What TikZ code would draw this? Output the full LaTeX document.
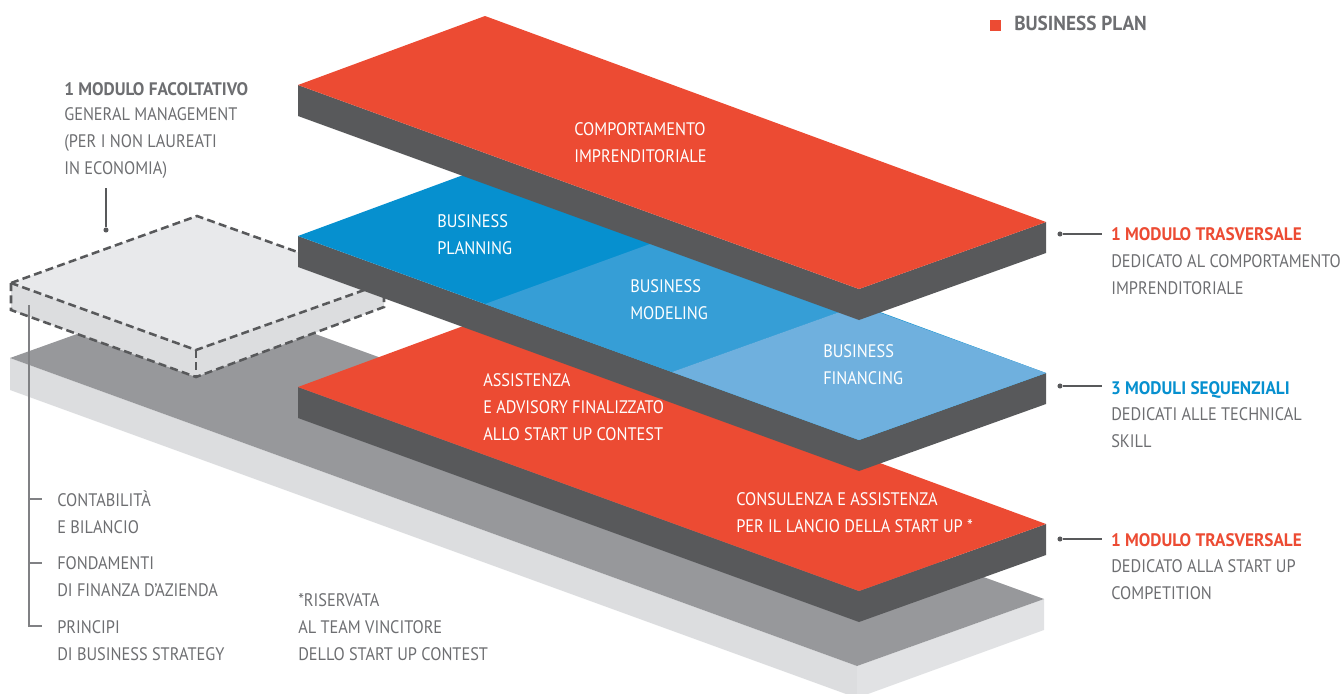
\documentclass[tikz,border=0pt]{standalone}
\usepackage{fontspec}
\setmainfont[FakeStretch=0.9,BoldFeatures={FakeStretch=0.95}]{PT Sans}
\usepackage{tikz}
\definecolor{planred}{HTML}{EC4B33}
\definecolor{sidegrey}{HTML}{58595B}
\definecolor{basegrey}{HTML}{97989B}
\definecolor{paleside}{HTML}{DCDDDF}
\definecolor{paletop}{HTML}{E8E9EB}
\definecolor{blueA}{HTML}{0690CF}
\definecolor{blueB}{HTML}{369ED6}
\definecolor{blueC}{HTML}{6FB0DE}
\definecolor{txtgrey}{HTML}{6D6E71}
\def\slab[#1](#2){
	\fill[sidegrey,shift={(0,#2)}] (298,0) -- (859,204) -- (859,235) -- (298,31) -- cycle;
	\fill[sidegrey,shift={(0,#2)}] (859,204) -- (1046,137) -- (1046,168) -- (859,235) -- cycle;
	\fill[#1,shift={(0,#2)}] (298,0) -- (485,-69) -- (1046,137) -- (859,204) -- cycle;
}
\tikzset{
	lab/.style={font=\fontsize{13.6}{20.1}\selectfont,text=txtgrey,align=left,anchor=west,inner sep=0pt},
	whitelab/.style={lab,text=white},
	boldlab/.style={lab,font=\fontsize{13.6}{20.1}\selectfont\bfseries,text height=9.6pt,text depth=0pt},
	head/.style={boldlab,outer sep=6.75pt},
	leader/.style={draw=sidegrey,line width=0.8pt},
	lead dot/.style={circle,fill=sidegrey,inner sep=0pt,minimum size=3.8pt},
	tree/.style={draw=basegrey!85!black,line width=0.8pt},
	blockedge/.style={draw=sidegrey,line width=1.9pt,dash pattern=on 6pt off 3.2pt}
}
\begin{document}
\begin{tikzpicture}[x=0.75pt,y=-0.75pt]
	\useasboundingbox (0,0) rectangle (1344,693);
	\clip (0,0) rectangle (1344,693);
	%%%%% BASE %%%%%
	\fill[paleside] (10,358) -- (857,666) -- (857,698) -- (10,390) -- cycle;
	\fill[paleside!85!white] (857,666) -- (1044,599) -- (1044,630) -- (857,698) -- cycle;
	\fill[basegrey] (10,358) -- (197,291) -- (1044,599) -- (857,666) -- cycle;

	%%%%% OPTIONAL BLOCK %%%%%
	\fill[paleside] (11,283) -- (196,350) -- (384,283) -- (384,307) -- (196,377) -- (11,310) -- cycle;
	\fill[paletop] (11,283) -- (197,216) -- (384,283) -- (196,350) -- cycle;
	\draw[blockedge] (11,283) -- (197,216) -- (384,283) -- (196,350) -- cycle;
	\draw[blockedge] (11,283) -- (11,310) -- (196,377) -- (384,307) -- (384,283);
	\draw[blockedge] (196,350) -- (196,377);

	%%%%% SLABS %%%%%
	\slab[planred](387)
	\slab[blueA](236)
	\fill[blueB] (485,304) -- (672,236) -- (859,305) -- (672,372) -- cycle;
	\fill[blueC] (672,372) -- (859,305) -- (1046,373) -- (859,440) -- cycle;
	\slab[planred](85)

	%%%%% TEXT ON SLABS %%%%%
	\node[whitelab] (comportamento) at (574,143) {COMPORTAMENTO\\IMPRENDITORIALE};
	\node[whitelab] (planning) at (437,235) {BUSINESS\\PLANNING};
	\node[whitelab] (modeling) at (630,300) {BUSINESS\\MODELING};
	\node[whitelab] (financing) at (823,365) {BUSINESS\\FINANCING};
	\node[whitelab] (advisory) at (483,407) {ASSISTENZA\\E ADVISORY FINALIZZATO\\ALLO START UP CONTEST};
	\node[whitelab] (consulenza) at (736,513) {CONSULENZA E ASSISTENZA\\PER IL LANCIO DELLA START UP *};

	%%%%% LEGEND %%%%%
	\fill[planred] (990,20) rectangle (1001,31);
	\node[boldlab,font=\fontsize{15.2}{20.1}\selectfont\bfseries] (legend) at (1014,24.5) {BUSINESS PLAN};

	%%%%% OPTIONAL MODULE %%%%%
	\node[boldlab] (facoltativo) at (64,89.5) {1 MODULO FACOLTATIVO};
	\node[lab] (general) at (64,143) {GENERAL MANAGEMENT\\(PER I NON LAUREATI\\IN ECONOMIA)};
	\node[lead dot] (dotfac) at (106,230) {};
	\coordinate (topfac) at (106,188);
	\draw[leader] (topfac) -- (dotfac);

	%%%%% RIGHT COLUMN %%%%%
	\node[lead dot] (dotA) at (1060,234) {};
	\node[lead dot] (dotB) at (1060,386) {};
	\node[lead dot] (dotC) at (1060,539) {};
	\node[head,text=planred] (headA) at (1102,234.5) {1 MODULO TRASVERSALE};
	\node[head,text=blueA] (headB) at (1102,388) {3 MODULI SEQUENZIALI};
	\node[head,text=planred] (headC) at (1102,540) {1 MODULO TRASVERSALE};
	\draw[leader] (dotA) -- (dotA -| headA.west);
	\draw[leader] (dotB) -- (dotB -| headB.west);
	\draw[leader] (dotC) -- (dotC -| headC.west);
	\node[lab] (bodyA) at (1111,275) {DEDICATO AL COMPORTAMENTO\\IMPRENDITORIALE};
	\node[lab] (bodyB) at (1111,428) {DEDICATI ALLE TECHNICAL\\SKILL};
	\node[lab] (bodyC) at (1111,580) {DEDICATO ALLA START UP\\COMPETITION};

	%%%%% LEFT COLUMN %%%%%
	\node[lab] (contabilita) at (57,512) {CONTABILITÀ\\E BILANCIO};
	\node[lab] (fondamenti) at (57,577) {FONDAMENTI\\DI FINANZA D'AZIENDA};
	\node[lab] (principi) at (57,640.5) {PRINCIPI\\DI BUSINESS STRATEGY};
	\coordinate (treetop) at (29,305);
	\coordinate (treeA) at (42,499);
	\coordinate (treeB) at (42,563);
	\coordinate (treeC) at (42,626);
	\draw[tree] (treetop) |- (treeC);
	\draw[tree] (29,499) -- (treeA);
	\draw[tree] (29,563) -- (treeB);

	\node[lab] (riservata) at (298,627) {*RISERVATA\\AL TEAM VINCITORE\\DELLO START UP CONTEST};
\end{tikzpicture}
\end{document}
